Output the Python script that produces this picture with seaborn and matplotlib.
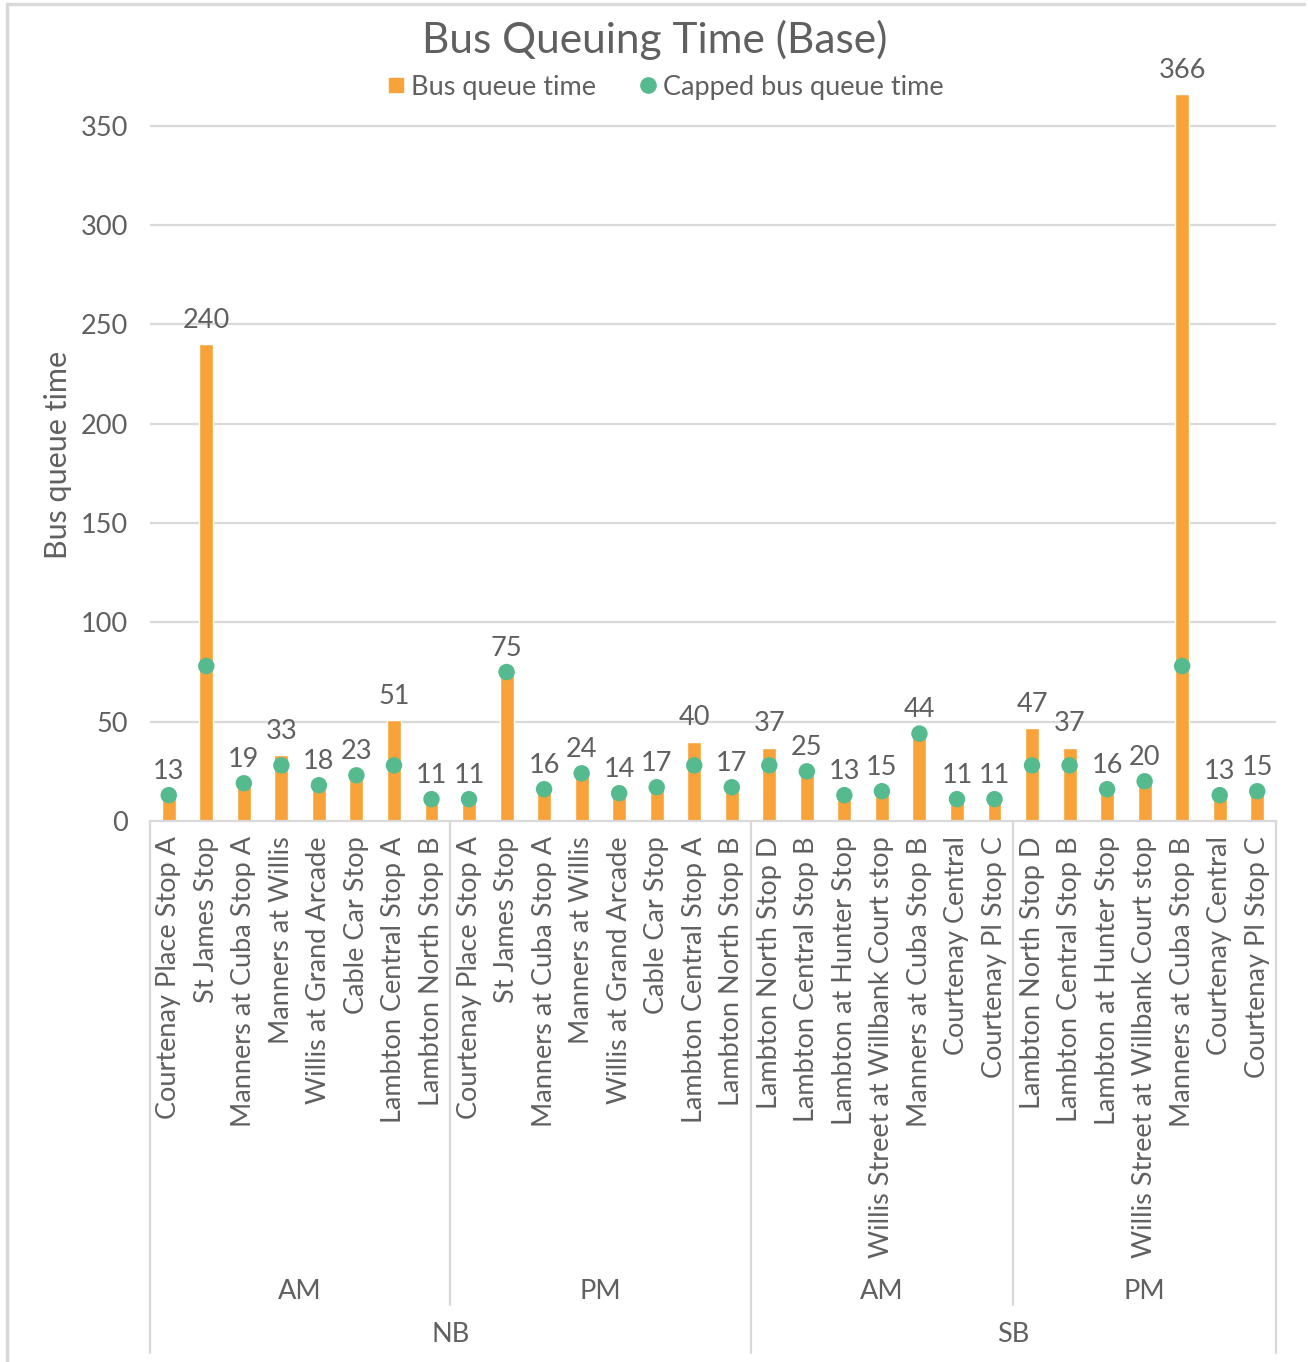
import numpy as np
import pandas as pd
import matplotlib
matplotlib.use('Agg')
import matplotlib.pyplot as plt
from matplotlib.lines import Line2D
import seaborn as sns

# stop names, grouped by direction (NB/SB) then peak (AM/PM)
nb_stops = ['Courtenay Place Stop A', 'St James Stop', 'Manners at Cuba Stop A',
            'Manners at Willis', 'Willis at Grand Arcade', 'Cable Car Stop',
            'Lambton Central Stop A', 'Lambton North Stop B']
sb_stops = ['Lambton North Stop D', 'Lambton Central Stop B', 'Lambton at Hunter Stop',
            'Willis Street at Willbank Court stop', 'Manners at Cuba Stop B',
            'Courtenay Central', 'Courtenay Pl Stop C']

nb_am_queue = [13, 240, 19, 33, 18, 23, 51, 11]
nb_pm_queue = [11, 75, 16, 24, 14, 17, 40, 17]
sb_am_queue = [37, 25, 13, 15, 44, 11, 11]
sb_pm_queue = [47, 37, 16, 20, 366, 13, 15]

nb_am_capped = [13, 78, 19, 28, 18, 23, 28, 11]
nb_pm_capped = [11, 75, 16, 24, 14, 17, 28, 17]
sb_am_capped = [28, 25, 13, 15, 44, 11, 11]
sb_pm_capped = [28, 28, 16, 20, 78, 13, 15]

groups = [('NB', 'AM', nb_stops, nb_am_queue, nb_am_capped),
          ('NB', 'PM', nb_stops, nb_pm_queue, nb_pm_capped),
          ('SB', 'AM', sb_stops, sb_am_queue, sb_am_capped),
          ('SB', 'PM', sb_stops, sb_pm_queue, sb_pm_capped)]

rows = []
for direction, peak, stops, q, c in groups:
    for s, qv, cv in zip(stops, q, c):
        rows.append({'dir': direction, 'peak': peak, 'stop': s, 'queue': qv, 'capped': cv})
df = pd.DataFrame(rows)
df['idx'] = range(len(df))

orange = '#F8A23A'
green = '#55BB8F'
grey_txt = '#606060'
grid_col = '#D9D9D9'
fs = 19.5

sns.set_style('white')
plt.rcParams['font.family'] = ['Lato', 'DejaVu Sans']

fig = plt.figure(figsize=(13.08, 13.62), dpi=100)
ax = fig.add_axes([150/1308, 541/1362, 1126/1308, 735/1362])

sns.barplot(data=df, x='idx', y='queue', color=orange, width=0.37, ax=ax,
            saturation=1, errorbar=None)
sns.scatterplot(data=df, x='idx', y='capped', color=green, s=140, edgecolor='none',
                ax=ax, zorder=5)

ax.set_ylim(0, 370)
ax.set_xlim(-0.5, len(df) - 0.5)
ax.set_yticks(range(0, 351, 50))
for yv in range(50, 351, 50):
    ax.axhline(yv, color=grid_col, lw=1.6, zorder=0)
for sp in ['left', 'right', 'top']:
    ax.spines[sp].set_visible(False)
ax.spines['bottom'].set_color(grid_col)
ax.spines['bottom'].set_linewidth(1.6)
ax.tick_params(axis='y', length=0, pad=16, labelsize=fs, labelcolor=grey_txt)
ax.tick_params(axis='x', length=0, pad=11, labelsize=fs, labelcolor=grey_txt)
ax.set_xticks(df['idx'])
ax.set_xticklabels(df['stop'], rotation=90)
ax.set_xlabel('')
ax.set_ylabel('')

# data labels
for i, r in df.iterrows():
    top = max(r['queue'], r['capped'])
    ax.annotate(str(r['queue']), (r['idx'], top), xytext=(0, 8), textcoords='offset points',
                ha='center', va='bottom', fontsize=fs, color=grey_txt, annotation_clip=False)

# multi-level category axis
trans = ax.get_xaxis_transform()
outer = [-0.5, 15.5, 29.5]
inner = [7.5, 22.5]
for xb in outer:
    ax.plot([xb, xb], [0, -0.724], color=grid_col, lw=1.6, transform=trans, clip_on=False)
for xb in inner:
    ax.plot([xb, xb], [0, -0.659], color=grid_col, lw=1.6, transform=trans, clip_on=False)

for (direction, peak), g in df.groupby(['dir', 'peak']):
    ax.text(g['idx'].mean(), -0.6395, peak, transform=trans, ha='center', va='center',
            fontsize=fs, color=grey_txt)
for direction, g in df.groupby('dir'):
    ax.text(g['idx'].mean(), -0.6993, direction, transform=trans, ha='center', va='center',
            fontsize=fs, color=grey_txt)

fig.text(58/1308, 1 - 455/1362, 'Bus queue time', rotation=90, ha='center', va='center',
         fontsize=22, color=grey_txt)
fig.text(655/1308, 1 - 40/1362, 'Bus Queuing Time (Base)', ha='center', va='center',
         fontsize=30.5, color=grey_txt)

handles = [Line2D([], [], marker='s', color=orange, ls='none', markersize=10),
           Line2D([], [], marker='o', color=green, ls='none', markersize=11)]
fig.legend(handles, ['Bus queue time', 'Capped bus queue time'], loc='center',
           bbox_to_anchor=(663/1308, 1 - 87/1362), ncol=2, frameon=False, fontsize=fs,
           labelcolor=grey_txt, handletextpad=0.05, columnspacing=1.4, handlelength=1.0)

# outer chart border (left and top visible in the screenshot)
fig.add_artist(Line2D([7/1308, 7/1308], [0, 1 - 4/1362], color=grid_col, lw=2.5))
fig.add_artist(Line2D([7/1308, 1304/1308], [1 - 4/1362, 1 - 4/1362], color=grid_col, lw=2.5))

fig.savefig('out.png', dpi=100)
